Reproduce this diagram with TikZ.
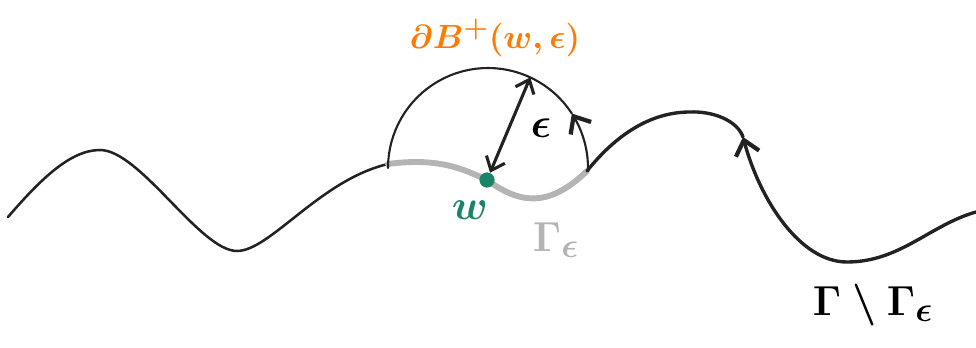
\documentclass[tikz,border=0pt]{standalone}
\usetikzlibrary{arrows.meta, positioning}
\definecolor{inkblack}{RGB}{34,34,34}
\definecolor{inkgray}{RGB}{180,180,180}
\definecolor{inkorange}{RGB}{255,122,0}
\definecolor{inkgreen}{RGB}{27,131,104}
\tikzstyle{curveline} = [draw=inkblack, line width=1.8pt, line cap=round, line join=round]
\tikzstyle{thickcurve} = [draw=inkblack, line width=2.4pt, line cap=round, line join=round]
\tikzstyle{arcline} = [draw=inkblack, line width=1.5pt, line cap=round]
\tikzstyle{graypart} = [draw=inkgray, line width=4.2pt, line cap=round]
\tikzstyle{arrowtip} = [-{Straight Barb[length=3.5mm, width=6mm, line width=3pt]}]
\tikzstyle{dblarrow} = [draw=inkblack, line width=2.2pt, line cap=round, {Straight Barb[length=3mm, width=5mm]}-{Straight Barb[length=3mm, width=5mm]}]
\tikzstyle{dot} = [circle, fill=inkgreen, inner sep=0pt, minimum size=0.38cm]
\tikzstyle{tag} = [inner sep=0pt, font=\Huge\boldmath, scale=1.2]

\begin{document}
\begin{tikzpicture}[x=0.025cm, y=-0.025cm]
    \useasboundingbox (0,0) rectangle (976,348);

    % the boundary curve
    \draw[curveline] (8,217) .. controls (40,180) and (70,150) .. (100,150)
        .. controls (140,150) and (200,251) .. (237,251)
        .. controls (270,251) and (320,180) .. (388,164);
    \draw[graypart] (388,164) .. controls (440,157) and (465,170) .. (487,180)
        .. controls (515,200) and (545,212) .. (587,171);
    \draw[thickcurve, arrowtip] (976,212) .. controls (930,225) and (900,262) .. (847,262)
        .. controls (800,262) and (760,200) .. (743,137);
    \draw[thickcurve] (743,137) .. controls (737,120) and (712,111) .. (690,112)
        .. controls (655,112) and (620,130) .. (587,171);

    % half circle
    \draw[arcline, arrowtip] plot[domain=0:33, samples=12] ({488+100*cos(\x)},{168-100*sin(\x)});
    \draw[arcline] plot[domain=33:180, samples=40] ({488+100*cos(\x)},{168-100*sin(\x)});

    \node (w) [dot] at (487,180) {};
    \coordinate (rim) at ({488+100*cos(65)},{168-100*sin(65)});
    \draw[dblarrow] (rim) -- (w);

    % labels
    \node (ballLbl) [tag, text=inkorange, scale=0.8] at (495,38) {$\partial B^{+}(w,\epsilon)$};
    \node (epsLbl) [tag] at (541,128) {$\epsilon$};
    \node (wLbl) [tag, text=inkgreen] at (470,210) {$w$};
    \node (gammaEps) [tag, text=inkgray] at (556,240) {$\Gamma_{\epsilon}$};
    \node (gammaRest) [tag] at (873,305) {$\Gamma\setminus\Gamma_{\epsilon}$};
\end{tikzpicture}
\end{document}
